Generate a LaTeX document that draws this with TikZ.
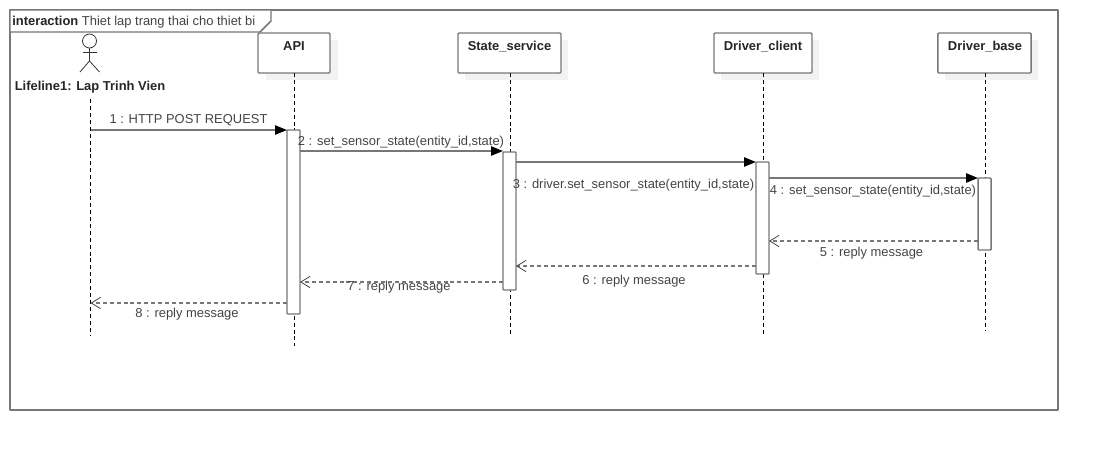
\documentclass[tikz,border=0pt]{standalone}
\usepackage{fontspec}
\setmainfont{Liberation Sans}
\usetikzlibrary{arrows.meta}
\definecolor{ln}{HTML}{777777}
\definecolor{txt}{HTML}{444444}
\definecolor{shd}{HTML}{F2F2F2}
\tikzset{
  x=0.75pt,y=-0.75pt,
  frameline/.style={draw=ln,line width=1.1pt,line join=round},
  lifebox/.style={draw=ln,line width=1.1pt,fill=white,rounded corners=0.8pt,minimum height=30pt,inner sep=0pt,outer sep=0pt},
  shadowbox/.style={fill=shd,draw=none,minimum height=30pt,inner sep=0pt,outer sep=0pt},
  boxlabel/.style={font=\fontsize{9.7}{11}\selectfont\bfseries,text=black!85,inner sep=0pt},
  lifedash/.style={draw=black,line width=0.7pt,dash pattern=on 3pt off 2.2pt},
  act/.style={draw=ln,line width=1.1pt,fill=white,rounded corners=0.6pt,minimum width=9.75pt,inner sep=0pt,outer sep=0pt},
  callmsg/.style={draw=ln,line width=1.1pt,-{Triangle[length=9pt,width=7pt,color=black]}},
  replymsg/.style={draw=ln,line width=1.1pt,dash pattern=on 3pt off 2.2pt,-{Straight Barb[length=7pt,width=8.5pt,color=txt,line width=0.6pt]}},
  msglabel/.style={font=\fontsize{9.7}{11}\selectfont,text=txt,inner sep=0pt},
  stick/.style={draw=black!80,line width=0.6pt},
}
\begin{document}
\begin{tikzpicture}
\useasboundingbox (0,0) rectangle (1098,450);
% frame
\draw[frameline] (10,10) rectangle (1058,410);
\draw[frameline,fill=white] (10,10) -- (271,10) -- (271,21) -- (260,32) -- (10,32) -- cycle;
\node[anchor=base west,inner sep=0pt,font=\fontsize{9.7}{11}\selectfont,text=txt] (frametitle) at (12,25) {\textbf{\textcolor{black!85}{interaction}} Thiet lap trang thai cho thiet bi};
% shadows
\node[shadowbox,minimum width=54pt] (apishadow) at (301.5,60) {};
\node[shadowbox,minimum width=77.25pt] (stateshadow) at (516.5,60) {};
\node[shadowbox,minimum width=73.5pt] (clientshadow) at (770,60) {};
\node[shadowbox,minimum width=70pt] (baseshadow) at (991.5,60) {};
% lifeline heads
\node[lifebox,minimum width=54pt] (api) at (294,53) {};
\node[lifebox,minimum width=77.25pt] (state) at (509.5,53) {};
\node[lifebox,minimum width=73.5pt] (client) at (763,53) {};
\node[lifebox,minimum width=70pt] (base) at (984.5,53) {};
\node[boxlabel] (apilabel) at (294,46.5) {API};
\node[boxlabel] (statelabel) at (509.5,46.5) {State\_service};
\node[boxlabel] (clientlabel) at (763,46.5) {Driver\_client};
\node[boxlabel] (baselabel) at (985,46.5) {Driver\_base};
% actor
\node[circle,stick,minimum size=10.5pt,inner sep=0pt,outer sep=0pt] (head) at (89.5,41) {};
\coordinate (hip) at (89.5,61);
\draw[stick] (head.south) -- (hip);
\coordinate (armL) at (83,52);
\coordinate (armR) at (97,52);
\draw[stick] (armL) -- (armR);
\coordinate (legL) at (80,72);
\coordinate (legR) at (99.5,72);
\draw[stick] (legL) -- (hip) -- (legR);
\node[boxlabel] (actorlabel) at (90,87) {Lifeline1: Lap Trinh Vien};
% lifeline ends
\coordinate (actortop) at (90.5,99);
\coordinate (actorend) at (90.5,336);
\coordinate (apiend) at (294.5,346);
\coordinate (stateend) at (510.5,336);
\coordinate (clientend) at (763.5,336);
\coordinate (baseend) at (985.5,331);
\coordinate (apitop) at (294.5,73);
\coordinate (statetop) at (510.5,73);
\coordinate (clienttop) at (763.5,73);
\coordinate (basetop) at (985.5,73);
\draw[lifedash] (actortop) -- (actorend);
\draw[lifedash] (apitop) -- (apiend);
\draw[lifedash] (statetop) -- (stateend);
\draw[lifedash] (clienttop) -- (clientend);
\draw[lifedash] (basetop) -- (baseend);
% activations
\node[act,minimum height=138pt] (apiact) at (293.5,222) {};
\node[act,minimum height=103.5pt] (stateact) at (509.5,221) {};
\node[act,minimum height=84pt] (clientact) at (762.5,218) {};
\node[act,minimum height=54pt] (baseact) at (984.5,214) {};
% message levels
\coordinate (y1) at (90.5,130);
\coordinate (y2) at (0,151);
\coordinate (y3) at (0,162);
\coordinate (y4) at (0,178);
\coordinate (y5) at (0,241);
\coordinate (y6) at (0,266);
\coordinate (y7) at (0,282);
\coordinate (y8) at (90.5,303);
% messages
\draw[callmsg] (y1) -- (y1 -| apiact.west);
\draw[callmsg] (y2 -| apiact.east) -- (y2 -| stateact.west);
\draw[callmsg] (y3 -| stateact.east) -- (y3 -| clientact.west);
\draw[callmsg] (y4 -| clientact.east) -- (y4 -| baseact.west);
\draw[replymsg] (y5 -| baseact.west) -- (y5 -| clientact.east);
\draw[replymsg] (y6 -| clientact.west) -- (y6 -| stateact.east);
\draw[replymsg] (y7 -| stateact.west) -- (y7 -| apiact.east);
\draw[replymsg] (y8 -| apiact.west) -- (y8);
% labels
\node[msglabel] (m1) at (188.5,120.5) {1 : HTTP POST REQUEST};
\node[msglabel] (m2) at (401,142) {2 : set\_sensor\_state(entity\_id,state)};
\node[msglabel] (m3) at (633.5,185) {3 : driver.set\_sensor\_state(entity\_id,state)};
\node[msglabel] (m4) at (873,191) {4 : set\_sensor\_state(entity\_id,state)};
\node[msglabel] (m5) at (871.5,253) {5 : reply message};
\node[msglabel] (m6) at (634,281) {6 : reply message};
\node[msglabel] (m7) at (399,287) {7 : reply message};
\node[msglabel] (m8) at (187,314) {8 : reply message};
\end{tikzpicture}
\end{document}
